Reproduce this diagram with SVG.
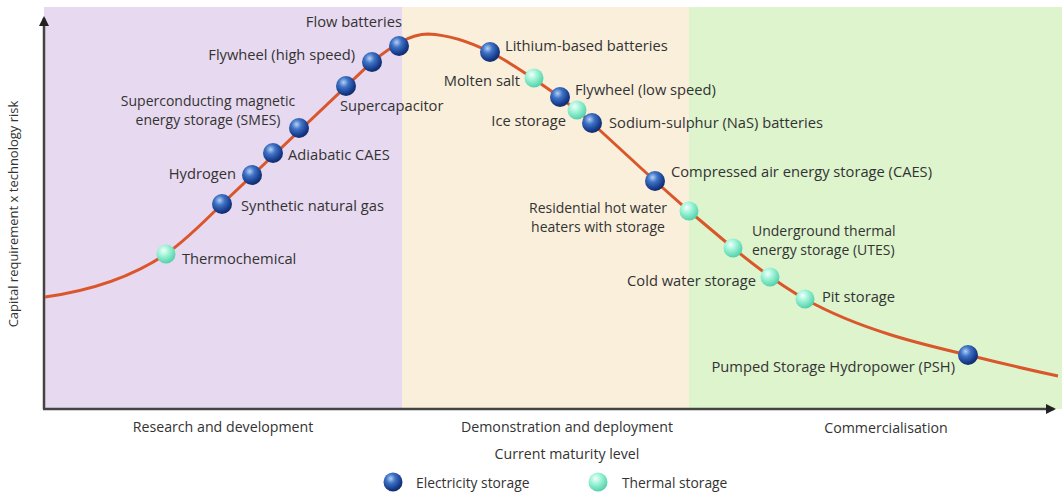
<svg xmlns="http://www.w3.org/2000/svg" width="1062" height="493" viewBox="0 0 1062 493">
<defs>
<radialGradient id="gBlue" cx="38%" cy="32%" r="70%">
<stop offset="0" stop-color="#b5d0f2"/>
<stop offset="0.35" stop-color="#3f73c6"/>
<stop offset="0.8" stop-color="#173a8a"/>
<stop offset="1" stop-color="#0f2a66"/>
</radialGradient>
<radialGradient id="gTeal" cx="38%" cy="32%" r="70%">
<stop offset="0" stop-color="#f2fffa"/>
<stop offset="0.45" stop-color="#98f2d4"/>
<stop offset="1" stop-color="#52cfa8"/>
</radialGradient>
<marker id="arr" viewBox="0 0 10 10" refX="8" refY="5" markerWidth="4" markerHeight="4" orient="auto" markerUnits="strokeWidth">
<path d="M0,0 L10,5 L0,10 z" fill="#222"/>
</marker>
<style>
text{font-family:"Open Sans","Liberation Sans",sans-serif;font-size:14.7px;fill:#333}
.ml{font-size:14px}
.ax{font-size:13px}
.ph{font-size:14.2px}
.lg{font-size:13.8px}
.blue{fill:url(#gBlue)}
.teal{fill:url(#gTeal)}
</style>
</defs>
<rect x="0" y="0" width="1062" height="493" fill="#ffffff"/>
<g id="bands">
<rect x="44" y="7" width="358" height="402" fill="#e7d9ef"/>
<rect x="402" y="7" width="287" height="402" fill="#f9efdb"/>
<rect x="689" y="7" width="373" height="402" fill="#ddf4cd"/>
</g>
<g id="axes" stroke="#444" stroke-width="2.5" fill="none">
<line x1="44" y1="409" x2="44" y2="18" marker-end="url(#arr)"/>
<line x1="43" y1="409" x2="1054" y2="409" marker-end="url(#arr)"/>
</g>
<g id="connectors">
<path d="M45,297 C95,290 135,275 166,254 C185,241 205,221 222,204 L372,62 C392,46 410,34 428,34 C450,35 470,42 490,52 C510,62 560,95 592,123 L655,181 L689,211 L733,248 C760,270 785,288 805,299 C860,330 925,345 968,355 C1000,363 1030,370 1058,376" fill="none" stroke="#d9572b" stroke-width="3"/>
</g>
<g id="n-thermochemical"><circle class="teal" cx="166" cy="254" r="9.5"/><text x="182" y="264">Thermochemical</text></g>
<g id="n-sng"><circle class="blue" cx="222" cy="204" r="10"/><text x="241" y="211">Synthetic natural gas</text></g>
<g id="n-hydrogen"><circle class="blue" cx="252" cy="175" r="10"/><text x="236" y="179" text-anchor="end">Hydrogen</text></g>
<g id="n-acaes"><circle class="blue" cx="273" cy="153" r="10"/><text x="288" y="160">Adiabatic CAES</text></g>
<g id="n-smes"><circle class="blue" cx="299" cy="128" r="10"/><text class="ml" text-anchor="middle"><tspan x="208" y="106">Superconducting magnetic</tspan><tspan x="208" y="125">energy storage (SMES)</tspan></text></g>
<g id="n-supercap"><circle class="blue" cx="346" cy="86" r="10"/><text x="340" y="111">Supercapacitor</text></g>
<g id="n-flyhigh"><circle class="blue" cx="372" cy="62" r="10"/><text x="355" y="60" text-anchor="end">Flywheel (high speed)</text></g>
<g id="n-flow"><circle class="blue" cx="399" cy="46" r="10"/><text x="402" y="27" text-anchor="end">Flow batteries</text></g>
<g id="n-lithium"><circle class="blue" cx="490" cy="52" r="10"/><text x="505" y="51">Lithium-based batteries</text></g>
<g id="n-molten"><circle class="teal" cx="534" cy="78" r="9.5"/><text x="520" y="86" text-anchor="end">Molten salt</text></g>
<g id="n-flylow"><circle class="blue" cx="560" cy="97" r="10"/><text x="575" y="95">Flywheel (low speed)</text></g>
<g id="n-ice"><circle class="teal" cx="577" cy="110" r="9.5"/><text x="566" y="126" text-anchor="end">Ice storage</text></g>
<g id="n-nas"><circle class="blue" cx="592" cy="123" r="10"/><text x="609" y="128">Sodium-sulphur (NaS) batteries</text></g>
<g id="n-caes"><circle class="blue" cx="655" cy="181" r="10"/><text x="671" y="177">Compressed air energy storage (CAES)</text></g>
<g id="n-resid"><circle class="teal" cx="689" cy="211" r="9.5"/><text class="ml" text-anchor="middle"><tspan x="598" y="213">Residential hot water</tspan><tspan x="598" y="232">heaters with storage</tspan></text></g>
<g id="n-utes"><circle class="teal" cx="733" cy="248" r="9.5"/><text class="ml"><tspan x="752" y="236">Underground thermal</tspan><tspan x="752" y="255">energy storage (UTES)</tspan></text></g>
<g id="n-cold"><circle class="teal" cx="770" cy="277" r="9.5"/><text x="756" y="286" text-anchor="end">Cold water storage</text></g>
<g id="n-pit"><circle class="teal" cx="805" cy="299" r="9.5"/><text x="822" y="302">Pit storage</text></g>
<g id="n-psh"><circle class="blue" cx="968" cy="355" r="10"/><text x="955" y="372" text-anchor="end">Pumped Storage Hydropower (PSH)</text></g>
<g id="labels">
<text x="18" y="214" text-anchor="middle" class="ax" transform="rotate(-90 18 214)">Capital requirement x technology risk</text>
<text x="223" y="432" text-anchor="middle" class="ph">Research and development</text>
<text x="567" y="432" text-anchor="middle" class="ph">Demonstration and deployment</text>
<text x="886" y="433" text-anchor="middle" class="ph">Commercialisation</text>
<text x="567" y="459" text-anchor="middle" class="ph">Current maturity level</text>
</g>
<g id="legend">
<circle class="blue" cx="393" cy="482" r="9.5"/><text x="416" y="488" class="lg">Electricity storage</text>
<circle class="teal" cx="598" cy="482" r="9.5"/><text x="622" y="488" class="lg">Thermal storage</text>
</g>
</svg>
